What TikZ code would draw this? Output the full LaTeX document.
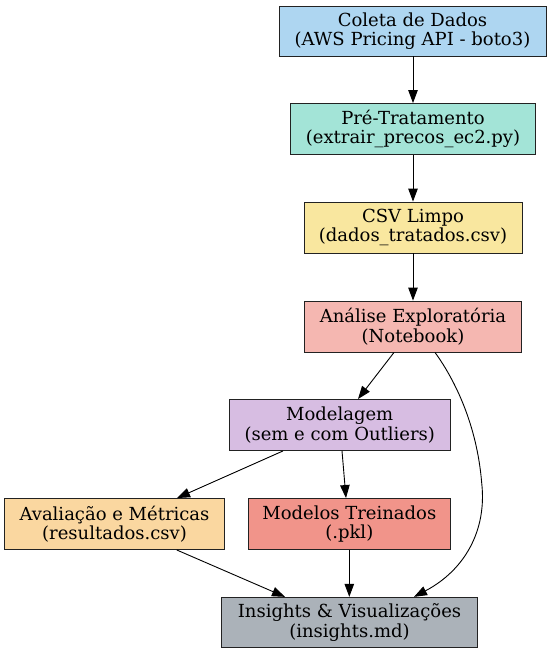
\documentclass[tikz,border=0pt]{standalone}
\usepackage{fontspec}
\setmainfont{DejaVu Serif}
\usetikzlibrary{arrows.meta}
\definecolor{cA}{HTML}{AED6F1}
\definecolor{cB}{HTML}{A3E4D7}
\definecolor{cC}{HTML}{F9E79F}
\definecolor{cD}{HTML}{F5B7B1}
\definecolor{cE}{HTML}{D7BDE2}
\definecolor{cF}{HTML}{FAD7A0}
\definecolor{cG}{HTML}{F1948A}
\definecolor{cH}{HTML}{ABB2B9}
\definecolor{edge}{HTML}{222222}
\tikzset{
  box/.style={draw=edge, line width=0.9pt, rectangle, inner sep=0pt, align=center,
    font=\fontsize{18}{19.5}\selectfont},
  conn/.style={line width=0.9pt, -{Triangle[length=13pt,width=9.5pt]}}
}
\begin{document}
\begin{tikzpicture}[x=1pt,y=-1pt]
\useasboundingbox (0,0) rectangle (552,653);
\node[box, fill=cA, minimum width=267pt, minimum height=50pt] (a) at (412.5,31) {Coleta de Dados\\(AWS Pricing API - boto3)};
\node[box, fill=cB, minimum width=245pt, minimum height=51pt] (b) at (413,129) {Pré-Tratamento\\(extrair\_precos\_ec2.py)};
\node[box, fill=cC, minimum width=218pt, minimum height=51pt] (c) at (413,227.5) {CSV Limpo\\(dados\_tratados.csv)};
\node[box, fill=cD, minimum width=217pt, minimum height=51pt] (d) at (413,326.5) {Análise Exploratória\\(Notebook)};
\node[box, fill=cE, minimum width=221pt, minimum height=51pt] (e) at (339.7,425) {Modelagem\\(sem e com Outliers)};
\node[box, fill=cF, minimum width=219.6pt, minimum height=51pt] (f) at (114.5,524) {Avaliação e Métricas\\(resultados.csv)};
\node[box, fill=cG, minimum width=202.7pt, minimum height=51pt] (g) at (349.3,524) {Modelos Treinados\\(.pkl)};
\node[box, fill=cH, minimum width=255.6pt, minimum height=50.4pt] (h) at (349.5,622.5) {Insights \& Visualizações\\(insights.md)};
\draw[conn] (b.north |- a.south) -- (b.north);
\draw[conn] (b.south) -- (c.north);
\draw[conn] (c.south) -- (d.north);
\draw[conn] ([xshift=-19pt]d.south) -- ([xshift=18.3pt]e.north);
\draw[conn] ([xshift=22pt]d.south) .. controls (455,380) and (477,425) .. (481.7,483) .. controls (487,530) and (465,570) .. ([xshift=64.5pt]h.north);
\draw[conn] ([xshift=-56.7pt]e.south) -- ([xshift=62.5pt]f.north);
\draw[conn] ([xshift=2.3pt]e.south) -- ([xshift=-3.3pt]g.north);
\draw[conn] ([xshift=62.2pt]f.south) -- ([xshift=-64.5pt]h.north);
\draw[conn] (g.south) -- (g.south |- h.north);
\end{tikzpicture}
\end{document}
